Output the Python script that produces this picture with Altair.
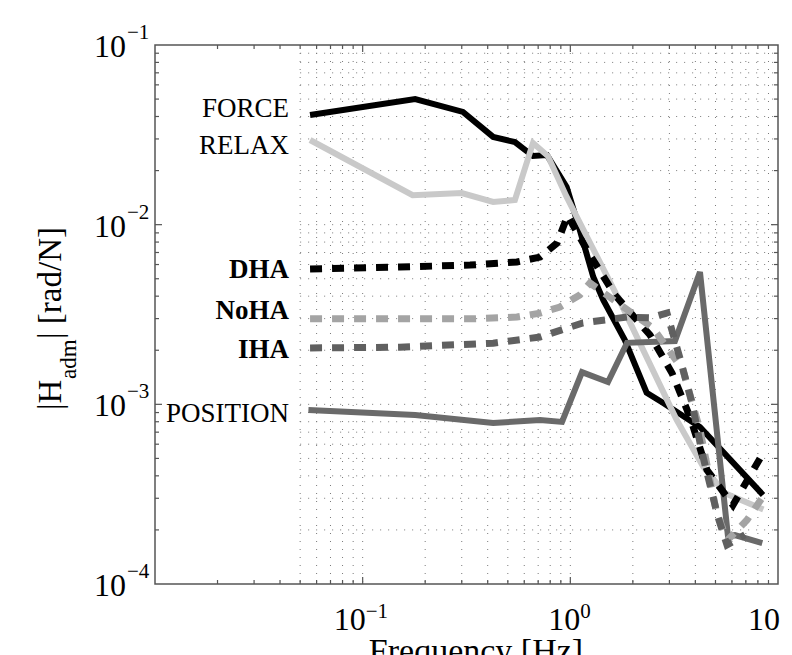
import altair as alt
import pandas as pd

W, H = 623, 539
SERIF = "Liberation Serif"

# ---------------- data ----------------
force_f = [0.0558, 0.179, 0.304, 0.425, 0.541, 0.661, 0.772, 0.96, 1.11, 1.29, 1.44, 1.83, 2.33, 2.79, 4.21, 8.47]
force_h = [0.0408, 0.0500, 0.0424, 0.0308, 0.0288, 0.0241, 0.0244, 0.0162, 0.00934, 0.00511, 0.00381, 0.00228,
           0.00116, 0.00102, 0.000748, 0.000313]

relax_f = [0.0558, 0.174, 0.300, 0.425, 0.541, 0.661, 0.78, 0.96, 1.73, 3.25, 4.36, 5.56, 8.5]
relax_h = [0.0296, 0.0146, 0.0150, 0.01337, 0.01372, 0.0285, 0.0241, 0.01426, 0.00375, 0.00082, 0.00045,
           0.00032, 0.00026]

position_f = [0.0548, 0.179, 0.425, 0.715, 0.912, 1.138, 1.518, 1.875, 3.19, 4.21, 5.74, 6.2, 8.4]
position_h = [0.00093, 0.000872, 0.000787, 0.000818, 0.000798, 0.00151, 0.00133, 0.00220, 0.00225, 0.00545,
              0.000185, 0.000187, 0.000169]

dha_f = [0.0558, 0.151, 0.329, 0.553, 0.715, 0.863, 0.97, 1.243, 1.64, 2.42, 3.09, 3.77, 4.55, 6.07, 8.37]
dha_h = [0.00567, 0.00581, 0.00596, 0.0062, 0.0066, 0.0079, 0.0112, 0.00678, 0.00406, 0.00243, 0.00149,
         0.00085, 0.000431, 0.000275, 0.000522]

noha_f = [0.0558, 0.151, 0.329, 0.553, 0.715, 0.891, 1.11, 1.243, 2.50, 3.49, 4.21, 5.03, 5.68, 7.09, 8.37]
noha_h = [0.00299, 0.00299, 0.00299, 0.00306, 0.00322, 0.00348, 0.00406, 0.00473, 0.00266, 0.00155, 0.00072,
          0.000258, 0.000174, 0.000227, 0.000301]

iha_f = [0.0558, 0.151, 0.425, 0.715, 1.15, 1.875, 2.42, 2.92, 3.37, 3.85, 4.31, 5.14, 5.68, 6.93]
iha_h = [0.00206, 0.00208, 0.00219, 0.00237, 0.00284, 0.00306, 0.00303, 0.00322, 0.00181, 0.00102, 0.000536,
         0.000236, 0.000165, 0.000188]

label_text = ["FORCE", "RELAX", "DHA", "NoHA", "IHA", "POSITION"]
label_y = [0.0438, 0.0274, 0.00559, 0.00331, 0.00201, 0.000883]
label_bold = [False, False, True, True, True, False]

x_major = [0.01, 0.1, 1, 10]
x_minor = [m * 10.0 ** e for e in (-2, -1, 0) for m in range(2, 10)]
y_major = [1e-4, 1e-3, 1e-2, 1e-1]
y_minor = [m * 10.0 ** e for e in (-4, -3, -2) for m in range(2, 10)]

ylab_v = [1e-1, 1e-2, 1e-3, 1e-4]
ylab_exp = ["\u22121", "\u22122", "\u22123", "\u22124"]
xlab_v = [0.1, 1, 10]
xlab_exp = ["\u22121", "0", ""]

grid_start = 0.05

# ---------------- scales ----------------
xs = alt.Scale(type="log", domain=[0.01, 10], nice=False, zero=False)
ys = alt.Scale(type="log", domain=[1e-4, 1e-1], nice=False, zero=False)
FRAME = "#555555"

layers = []

# grid (dotted), only from 0.05 Hz on, as in the reference
gx = sorted(v for v in x_major + x_minor if grid_start <= v < 10)
gy = sorted(v for v in y_major + y_minor if 1e-4 < v < 1e-1)
grid_style = dict(color="#7a7a7a", strokeWidth=1, strokeDash=[1, 7])
layers.append(alt.Chart(pd.DataFrame({"x": gx})).mark_rule(**grid_style).encode(
    x=alt.X("x:Q", scale=xs, axis=None), y=alt.value(0), y2=alt.value(H)))
layers.append(alt.Chart(pd.DataFrame({"y": gy, "x0": [grid_start] * len(gy), "x1": [10] * len(gy)}))
              .mark_rule(**grid_style).encode(
    y=alt.Y("y:Q", scale=ys, axis=None), x=alt.X("x0:Q", scale=xs, axis=None), x2="x1:Q"))

# ticks (inside) on all four sides
def ticks(xv, yv, length):
    dfx = pd.DataFrame({"x": xv})
    dfy = pd.DataFrame({"y": yv})
    st = dict(color=FRAME, strokeWidth=1.2)
    return [
        alt.Chart(dfx).mark_rule(**st).encode(x=alt.X("x:Q", scale=xs, axis=None), y=alt.value(H), y2=alt.value(H - length)),
        alt.Chart(dfx).mark_rule(**st).encode(x=alt.X("x:Q", scale=xs, axis=None), y=alt.value(0), y2=alt.value(length)),
        alt.Chart(dfy).mark_rule(**st).encode(y=alt.Y("y:Q", scale=ys, axis=None), x=alt.value(0), x2=alt.value(length)),
        alt.Chart(dfy).mark_rule(**st).encode(y=alt.Y("y:Q", scale=ys, axis=None), x=alt.value(W), x2=alt.value(W - length)),
    ]

layers += ticks(x_minor, y_minor, 4)
layers += ticks([v for v in x_major if 0.01 < v < 10], [v for v in y_major if 1e-4 < v < 1e-1], 7)

# series
def line(f, h, color, dash=None, width=6):
    df = pd.DataFrame({"f": f, "h": h, "i": list(range(len(f)))})
    kw = dict(color=color, strokeWidth=width, strokeCap="butt", clip=True)
    if dash:
        kw["strokeDash"] = dash
    return alt.Chart(df).mark_line(**kw).encode(
        x=alt.X("f:Q", scale=xs, axis=None),
        y=alt.Y("h:Q", scale=ys, axis=None),
        order="i:Q")

layers.append(line(force_f, force_h, "#000000"))
layers.append(line(relax_f, relax_h, "#c9c9c9"))
layers.append(line(position_f, position_h, "#6a6a6a"))
layers.append(line(dha_f, dha_h, "#000000", [12, 10], 7))
layers.append(line(noha_f, noha_h, "#a4a4a4", [12, 10], 7))
layers.append(line(iha_f, iha_h, "#606060", [12, 10], 7))

# series labels
lab = pd.DataFrame({"t": label_text, "y": label_y, "b": label_bold})
for bold in (False, True):
    layers.append(alt.Chart(lab).transform_filter(alt.datum.b == bold).mark_text(
        font=SERIF, fontSize=27, fontWeight="bold" if bold else "normal", align="right", baseline="middle",
        color="#000000").encode(
        x=alt.value(134), y=alt.Y("y:Q", scale=ys, axis=None), text="t:N"))

# y tick labels 10^k
yl = pd.DataFrame({"v": ylab_v, "e": ylab_exp, "b": ["10"] * len(ylab_v)})
layers.append(alt.Chart(yl).mark_text(font=SERIF, fontSize=32, align="right", baseline="alphabetic", dy=12,
                                       color="#000").encode(
    x=alt.value(-29), y=alt.Y("v:Q", scale=ys, axis=None), text="b:N"))
layers.append(alt.Chart(yl).mark_text(font=SERIF, fontSize=21, align="left", baseline="alphabetic", dy=-6,
                                       color="#000").encode(
    x=alt.value(-28), y=alt.Y("v:Q", scale=ys, axis=None), text="e:N"))

# x tick labels 10^k
xl = pd.DataFrame({"v": xlab_v, "e": xlab_exp, "b": ["10"] * len(xlab_v)})
for cond, dx in ((alt.datum.v == 0.1, 3), (alt.datum.v == 1, 10), (alt.datum.v == 10, 2)):
    layers.append(alt.Chart(xl).transform_filter(cond).mark_text(
        font=SERIF, fontSize=32, align="right", baseline="alphabetic", dx=dx, color="#000").encode(
        x=alt.X("v:Q", scale=xs, axis=None), y=alt.value(H + 46), text="b:N"))
    layers.append(alt.Chart(xl).transform_filter(cond).mark_text(
        font=SERIF, fontSize=21, align="left", baseline="alphabetic", dx=dx, color="#000").encode(
        x=alt.X("v:Q", scale=xs, axis=None), y=alt.value(H + 34), text="e:N"))

# axis titles
title_df = pd.DataFrame({"t": ["Frequency [Hz]"]})
layers.append(alt.Chart(title_df).mark_text(font=SERIF, fontSize=34, align="center", baseline="alphabetic",
                                            color="#000").encode(
    x=alt.value(321), y=alt.value(H + 78), text="t:N"))

ytitle = pd.DataFrame({"t": ["|H"], "s": ["adm"], "r": ["| [rad/N]"]})
layers.append(alt.Chart(ytitle).mark_text(font=SERIF, fontSize=33, angle=270, align="left", baseline="alphabetic",
                                          color="#000").encode(x=alt.value(-94), y=alt.value(365), text="t:N"))
layers.append(alt.Chart(ytitle).mark_text(font=SERIF, fontSize=23, angle=270, align="left", baseline="alphabetic",
                                          color="#000").encode(x=alt.value(-79), y=alt.value(334), text="s:N"))
layers.append(alt.Chart(ytitle).mark_text(font=SERIF, fontSize=33, angle=270, align="left", baseline="alphabetic",
                                          color="#000").encode(x=alt.value(-94), y=alt.value(294), text="r:N"))

chart = alt.layer(*layers).properties(
    width=W, height=H,
    autosize=alt.AutoSizeParams(type="none"),
    padding={"left": 155, "top": 45, "right": 14, "bottom": 71},
    background="white",
).configure_view(stroke=FRAME, strokeWidth=1.5)

chart.save("out.html", embed_options={"renderer": "svg", "actions": False})
